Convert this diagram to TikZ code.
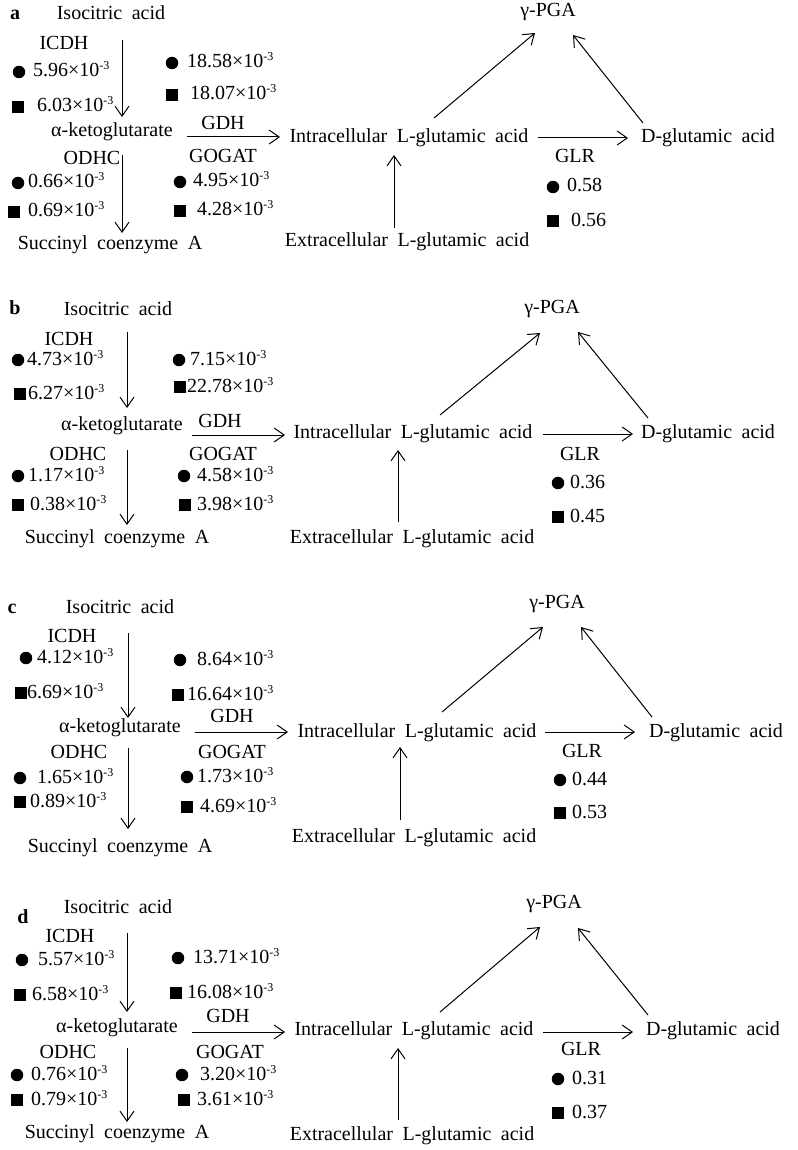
\documentclass[tikz,border=0pt]{standalone}
\usepackage{fontspec}
\setmainfont{Liberation Serif}[WordSpace=1.9]
\usetikzlibrary{arrows.meta}
\newcommand\fs{\fontsize{20}{24}\selectfont}
\newcommand\ee{×10\raisebox{7pt}{\fontsize{12}{12}\selectfont -3}}
\newcommand\row[6]{\node[#2] (#1m) at (#3,#4) {}; \node[val] (#1) at (#5,#4) {#6};}
\newcommand\arw[5]{\coordinate (#1s) at (#2,#3); \coordinate (#1e) at (#4,#5); \draw[arr] (#1s) -- (#1e);}
\tikzset{
  txt/.style={inner sep=0pt, text height=13.5pt, text depth=3.5pt, font=\fs},
  val/.style={txt, anchor=west},
  dot/.style={circle, fill=black, minimum size=12.5pt, inner sep=0pt},
  sq/.style={rectangle, fill=black, minimum size=12pt, inner sep=0pt},
  arr/.style={-{Straight Barb[length=10pt,width=14pt]}, line width=1pt},
  plab/.style={txt, font=\fs\bfseries}
}
\begin{document}
\begin{tikzpicture}[x=1pt,y=-1pt]
\useasboundingbox[fill=white] (0,0) rectangle (797,1150);
% ---------------- panel a
\begin{scope}[name prefix=a-]
\node[plab] (lab) at (15,15) {a};
\node[txt] (iso) at (111,15) {Isocitric acid};
\node[txt] (icdh) at (64,45) {ICDH};
\row{i1}{dot}{19}{72}{33}{5.96\ee}
\row{i2}{sq}{18}{107}{37}{6.03\ee}
\row{r1}{dot}{172}{63}{187}{18.58\ee}
\row{r2}{sq}{172}{95}{190}{18.07\ee}
\node[txt] (ak) at (112,132) {α-ketoglutarate};
\node[txt] (gdh) at (223,125) {GDH};
\node[txt] (odhc) at (92,160) {ODHC};
\row{o1}{dot}{18}{183}{28}{0.66\ee}
\row{o2}{sq}{14}{212}{28}{0.69\ee}
\node[txt] (gogat) at (223,158) {GOGAT};
\row{g1}{dot}{180}{182}{193}{4.95\ee}
\row{g2}{sq}{180}{211}{197}{4.28\ee}
\node[txt] (succ) at (110,245) {Succinyl coenzyme A};
\node[txt] (pga) at (548,12) {γ-PGA};
\node[txt] (intra) at (409,138) {Intracellular L-glutamic acid};
\node[txt] (dglu) at (708,138) {D-glutamic acid};
\node[txt] (glr) at (575,158) {GLR};
\row{l1}{dot}{553}{187}{567}{0.58}
\row{l2}{sq}{553}{221}{571}{0.56}
\node[txt] (extra) at (407,242) {Extracellular L-glutamic acid};
\arw{isoak}{122}{40}{122}{117}
\arw{aksucc}{122}{155}{122}{233}
\arw{akintra}{187}{137}{280}{137}
\arw{intrapga}{434}{118}{535}{33}
\arw{dglupga}{643}{123}{573}{35}
\arw{intradglu}{538}{138}{628}{138}
\arw{extraintra}{394}{228}{394}{155}
\end{scope}
% ---------------- panel b
\begin{scope}[name prefix=b-]
\node[plab] (lab) at (15,309) {b};
\node[txt] (iso) at (118,310) {Isocitric acid};
\node[txt] (icdh) at (69,340) {ICDH};
\row{i1}{dot}{18}{360}{27}{4.73\ee}
\row{i2}{sq}{20}{394}{28}{6.27\ee}
\row{r1}{dot}{179}{360}{190}{7.15\ee}
\row{r2}{sq}{180}{387}{187}{22.78\ee}
\node[txt] (ak) at (122,425) {α-ketoglutarate};
\node[txt] (gdh) at (220,422) {GDH};
\node[txt] (odhc) at (78,455) {ODHC};
\row{o1}{dot}{18}{476}{28}{1.17\ee}
\row{o2}{sq}{18}{505}{30}{0.38\ee}
\node[txt] (gogat) at (223,455) {GOGAT};
\row{g1}{dot}{184}{476}{197}{4.58\ee}
\row{g2}{sq}{185}{505}{197}{3.98\ee}
\node[txt] (succ) at (117,538) {Succinyl coenzyme A};
\node[txt] (pga) at (552,308) {γ-PGA};
\node[txt] (intra) at (413,433) {Intracellular L-glutamic acid};
\node[txt] (dglu) at (708,433) {D-glutamic acid};
\node[txt] (glr) at (580,455) {GLR};
\row{l1}{dot}{558}{483}{570}{0.36}
\row{l2}{sq}{558}{517}{570}{0.45}
\node[txt] (extra) at (412,538) {Extracellular L-glutamic acid};
\arw{isoak}{127}{332}{127}{408}
\arw{aksucc}{127}{450}{127}{525}
\arw{akintra}{192}{435}{285}{435}
\arw{intrapga}{440}{415}{540}{333}
\arw{dglupga}{648}{418}{578}{332}
\arw{intradglu}{543}{434}{633}{434}
\arw{extraintra}{398}{522}{398}{450}
\end{scope}
% ---------------- panel c
\begin{scope}[name prefix=c-]
\node[plab] (lab) at (12,608) {c};
\node[txt] (iso) at (120,608) {Isocitric acid};
\node[txt] (icdh) at (72,637) {ICDH};
\row{i1}{dot}{26}{658}{37}{4.12\ee}
\row{i2}{sq}{21}{693}{27}{6.69\ee}
\row{r1}{dot}{180}{660}{197}{8.64\ee}
\row{r2}{sq}{178}{695}{187}{16.64\ee}
\node[txt] (ak) at (120,727) {α-ketoglutarate};
\node[txt] (gdh) at (232,717) {GDH};
\node[txt] (odhc) at (79,753) {ODHC};
\row{o1}{dot}{20}{778}{37}{1.65\ee}
\row{o2}{sq}{20}{802}{30}{0.89\ee}
\node[txt] (gogat) at (232,753) {GOGAT};
\row{g1}{dot}{187}{777}{197}{1.73\ee}
\row{g2}{sq}{187}{807}{200}{4.69\ee}
\node[txt] (succ) at (120,847) {Succinyl coenzyme A};
\node[txt] (pga) at (557,603) {γ-PGA};
\node[txt] (intra) at (417,732) {Intracellular L-glutamic acid};
\node[txt] (dglu) at (716,732) {D-glutamic acid};
\node[txt] (glr) at (582,752) {GLR};
\row{l1}{dot}{560}{780}{572}{0.44}
\row{l2}{sq}{560}{813}{572}{0.53}
\node[txt] (extra) at (414,837) {Extracellular L-glutamic acid};
\arw{isoak}{128}{633}{128}{718}
\arw{aksucc}{128}{748}{128}{829}
\arw{akintra}{195}{732}{288}{732}
\arw{intrapga}{442}{712}{543}{627}
\arw{dglupga}{652}{717}{581}{627}
\arw{intradglu}{545}{732}{635}{732}
\arw{extraintra}{400}{820}{400}{747}
\end{scope}
% ---------------- panel d
\begin{scope}[name prefix=d-]
\node[plab] (lab) at (23,918) {d};
\node[txt] (iso) at (118,908) {Isocitric acid};
\node[txt] (icdh) at (70,937) {ICDH};
\row{i1}{dot}{22}{960}{38}{5.57\ee}
\row{i2}{sq}{20}{995}{32}{6.58\ee}
\row{r1}{dot}{178}{958}{193}{13.71\ee}
\row{r2}{sq}{176}{993}{187}{16.08\ee}
\node[txt] (ak) at (117,1027) {α-ketoglutarate};
\node[txt] (gdh) at (228,1017) {GDH};
\node[txt] (odhc) at (68,1053) {ODHC};
\row{o1}{dot}{17}{1075}{31}{0.76\ee}
\row{o2}{sq}{17}{1100}{31}{0.79\ee}
\node[txt] (gogat) at (230,1053) {GOGAT};
\row{g1}{dot}{182}{1075}{200}{3.20\ee}
\row{g2}{sq}{184}{1100}{197}{3.61\ee}
\node[txt] (succ) at (117,1133) {Succinyl coenzyme A};
\node[txt] (pga) at (554,903) {γ-PGA};
\node[txt] (intra) at (414,1030) {Intracellular L-glutamic acid};
\node[txt] (dglu) at (713,1030) {D-glutamic acid};
\node[txt] (glr) at (581,1050) {GLR};
\row{l1}{dot}{558}{1079}{572}{0.31}
\row{l2}{sq}{558}{1113}{572}{0.37}
\node[txt] (extra) at (412,1135) {Extracellular L-glutamic acid};
\arw{isoak}{127}{933}{127}{1012}
\arw{aksucc}{127}{1048}{127}{1122}
\arw{akintra}{192}{1032}{285}{1032}
\arw{intrapga}{440}{1012}{540}{927}
\arw{dglupga}{648}{1015}{578}{928}
\arw{intradglu}{543}{1032}{633}{1032}
\arw{extraintra}{398}{1120}{398}{1048}
\end{scope}
\end{tikzpicture}
\end{document}
